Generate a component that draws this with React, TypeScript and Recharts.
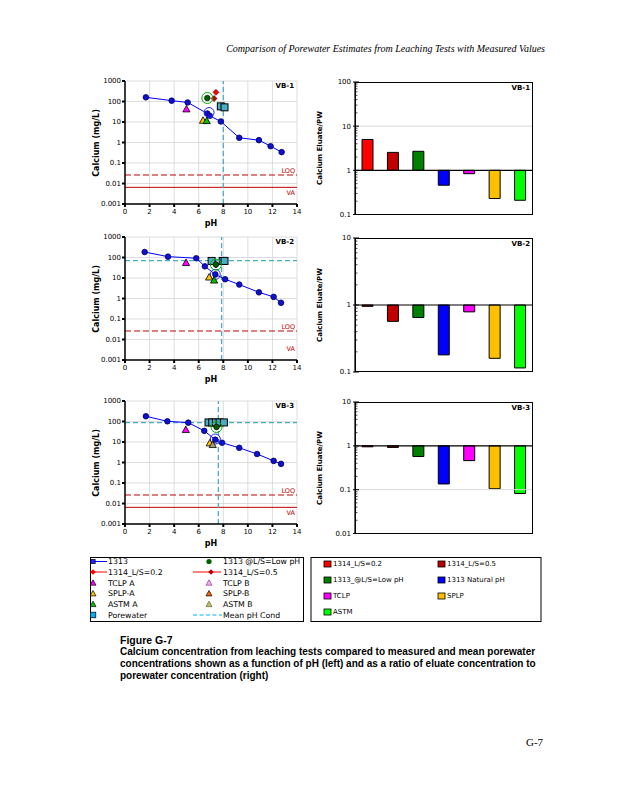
import React from 'react';
import {
  ComposedChart,
  Scatter,
  XAxis,
  YAxis,
  CartesianGrid,
  ReferenceLine,
  BarChart,
  Bar,
  Cell,
} from 'recharts';

type Pt = [number, number];

// ---------- axis ticks ----------
const PH_TICKS = [0, 2, 4, 6, 8, 10, 12, 14];
const CONC_TICKS = [0.001, 0.01, 0.1, 1, 10, 100, 1000];
const MINOR_MULT = [2, 3, 4, 5, 6, 7, 8, 9];
const RATIO_MAJORS_VB1 = [0.1, 1, 10, 100];
const RATIO_MAJORS_VB2 = [0.1, 1, 10];
const RATIO_MAJORS_VB3 = [0.01, 0.1, 1, 10];

// ---------- reference levels ----------
const LOQ = 0.026;
const VA = 0.0065;

// ---------- VB-1 (concentration vs pH) ----------
const vb1_1313: Pt[] = [[1.7, 160], [3.8, 110], [5.1, 90], [6.7, 26], [6.9, 20], [7.8, 10.6], [9.3, 1.7], [10.9, 1.3], [11.85, 0.66], [12.75, 0.34]];
const vb1_lowPH: Pt[] = [[6.7, 148]];
const vb1_l02: Pt[] = [[7.4, 280]];
const vb1_l05: Pt[] = [[7.25, 140]];
const vb1_tclpA: Pt[] = [[5.0, 43]];
const vb1_splpA: Pt[] = [[6.35, 12]];
const vb1_astmA: Pt[] = [[6.65, 11.5]];
const vb1_astmB: Pt[] = [];
const vb1_pore: Pt[] = [[7.8, 58], [8.1, 52]];
const vb1_natural: Pt[] = [[6.84, 29]];
const vb1_meanPH = 8.0;
const vb1_meanPW: number | null = null;

// ---------- VB-2 ----------
const vb2_1313: Pt[] = [[1.6, 185], [3.5, 110], [5.8, 92], [6.5, 37], [7.35, 15], [8.15, 8.7], [9.3, 4.8], [10.9, 2.0], [12.1, 1.2], [12.7, 0.62]];
const vb2_lowPH: Pt[] = [[7.4, 45]];
const vb2_l02: Pt[] = [[7.4, 47]];
const vb2_l05: Pt[] = [[7.4, 44]];
const vb2_tclpA: Pt[] = [[4.97, 56]];
const vb2_splpA: Pt[] = [[6.85, 11]];
const vb2_astmA: Pt[] = [[7.25, 7.8]];
const vb2_astmB: Pt[] = [];
const vb2_pore: Pt[] = [[7.05, 68], [7.95, 68], [8.1, 68]];
const vb2_natural: Pt[] = [[7.35, 15]];
const vb2_meanPH = 7.86;
const vb2_meanPW: number | null = 70;

// ---------- VB-3 ----------
const vb3_1313: Pt[] = [[1.7, 180], [3.45, 102], [5.15, 88], [6.45, 35], [7.35, 13], [7.9, 9.2], [9.3, 5.2], [10.75, 2.6], [12.1, 1.2], [12.7, 0.86]];
const vb3_lowPH: Pt[] = [[7.45, 54]];
const vb3_l02: Pt[] = [[7.45, 56]];
const vb3_l05: Pt[] = [];
const vb3_tclpA: Pt[] = [[4.95, 40]];
const vb3_splpA: Pt[] = [[6.9, 8.9]];
const vb3_astmA: Pt[] = [];
const vb3_astmB: Pt[] = [[7.14, 7.4]];
const vb3_pore: Pt[] = [[6.8, 90], [7.1, 90], [7.4, 90], [7.7, 90], [8.05, 90]];
const vb3_natural: Pt[] = [[7.35, 14]];
const vb3_meanPH = 7.6;
const vb3_meanPW: number | null = 88;

// ---------- ratio bars ----------
const BAR_CATS = ['1314_L/S=0.2', '1314_L/S=0.5', '1313_@L/S=Low pH', '1313 Natural pH', 'TCLP', 'SPLP', 'ASTM'];
const BAR_COLORS = ['#ff0000', '#c00000', '#008000', '#0000ff', '#ff00ff', '#ffc000', '#00ff00'];
const vb1_ratio = [5.0, 2.55, 2.7, 0.46, 0.84, 0.23, 0.21];
const vb2_ratio = [0.955, 0.57, 0.65, 0.18, 0.79, 0.16, 0.115];
const vb3_ratio = [0.95, 0.92, 0.57, 0.135, 0.46, 0.105, 0.082];

const FONT = "'DejaVu Sans', Verdana, sans-serif";

const toXY = (a: Pt[]) => a.map(([x, y]) => ({ x, y }));

// ---------- marker shapes ----------
const dotShape = (fill: string, stroke: string, r: number) => (p: any) =>
  <circle cx={p.cx} cy={p.cy} r={r} fill={fill} stroke={stroke} strokeWidth={0.8} />;
const ringShape = (fill: string, ring: string, r: number, R: number) => (p: any) => (
  <g>
    <circle cx={p.cx} cy={p.cy} r={r} fill={fill} stroke="#000" strokeWidth={0.6} />
    <circle cx={p.cx} cy={p.cy} r={R} fill="none" stroke={ring} strokeWidth={1} />
  </g>
);
const openRing = (ring: string, R: number) => (p: any) =>
  <circle cx={p.cx} cy={p.cy} r={R} fill="none" stroke={ring} strokeWidth={1} />;
const triShape = (fill: string, stroke = '#000') => (p: any) => {
  const { cx, cy } = p;
  const s = 3.6;
  return <polygon points={`${cx},${cy - s} ${cx - s},${cy + s * 0.8} ${cx + s},${cy + s * 0.8}`} fill={fill} stroke={stroke} strokeWidth={0.8} />;
};
const diamondShape = (fill: string) => (p: any) => {
  const { cx, cy } = p;
  const s = 3;
  return <polygon points={`${cx},${cy - s} ${cx + s},${cy} ${cx},${cy + s} ${cx - s},${cy}`} fill={fill} stroke="#600" strokeWidth={0.6} />;
};
const squareShape = (p: any) =>
  <rect x={p.cx - 3.5} y={p.cy - 3.5} width={7} height={7} fill="#4bacc6" stroke="#000" strokeWidth={1} />;

// label drawn at the right end of a reference line, shifted by dy
const EndLabel = (props: any) => {
  const vb = props.viewBox || {};
  const x = (vb.x || 0) + (vb.width || 0) - 2;
  const y = (vb.y || 0) + props.dy;
  return (
    <text x={x} y={y} textAnchor="end" fontSize={6.5} fontFamily={FONT} fill="#c00000">{props.text}</text>
  );
};

interface PhSet {
  line: Pt[]; lowPH: Pt[]; l02: Pt[]; l05: Pt[]; tclpA: Pt[]; splpA: Pt[]; astmA: Pt[]; astmB: Pt[];
  pore: Pt[]; natural: Pt[]; meanPH: number; meanPW: number | null; showVA: boolean;
}

const PLOT_H = 123;

function PhPanel({ top, label, s }: { top: number; label: string; s: PhSet }) {
  const W = 215;
  const H = 6 + PLOT_H + 25;
  const tickStyle = { fontSize: 7, fill: '#000', fontFamily: FONT };
  return (
    <>
      <div style={{ position: 'absolute', left: 90, top: top - 6 }}>
        <ComposedChart width={W} height={H} margin={{ top: 6, right: 8, bottom: 0, left: 0 }}>
          <CartesianGrid stroke="#d4d4d4" strokeWidth={0.8} />
          <XAxis type="number" dataKey="x" domain={[0, 14]} ticks={PH_TICKS} interval={0} height={25}
            tick={tickStyle} tickSize={3} tickMargin={2}
            axisLine={{ stroke: '#000', strokeWidth: 1.5 }} tickLine={{ stroke: '#000', strokeWidth: 2 }} />
          <YAxis type="number" dataKey="y" scale="log" domain={[0.001, 1000]} allowDataOverflow ticks={CONC_TICKS}
            interval={0} width={35} tick={tickStyle} tickSize={3} tickMargin={1}
            tickFormatter={(v: number) => String(v)}
            axisLine={{ stroke: '#000', strokeWidth: 1.5 }} tickLine={{ stroke: '#000', strokeWidth: 2 }} />
          <ReferenceLine y={LOQ} stroke="#c00000" strokeWidth={1} strokeDasharray="6 3"
            label={<EndLabel text="LOQ" dy={-2} />} />
          <ReferenceLine y={VA} stroke={s.showVA ? '#c00000' : 'none'} strokeWidth={1}
            label={<EndLabel text="VA" dy={8} />} />
          <ReferenceLine x={s.meanPH} stroke="#4bacc6" strokeWidth={1.3} strokeDasharray="5 3" />
          {s.meanPW !== null && (
            <ReferenceLine y={s.meanPW} stroke="#4bacc6" strokeWidth={1.3} strokeDasharray="5 3" />
          )}
          <Scatter data={toXY(s.line)} isAnimationActive={false} line={{ stroke: '#0000ff', strokeWidth: 1 }}
            lineJointType="linear" shape={dotShape('#1010d0', '#000060', 2.8)} />
          <Scatter data={toXY(s.natural)} isAnimationActive={false} shape={openRing('#2020ff', 5)} />
          <Scatter data={toXY(s.tclpA)} isAnimationActive={false} shape={triShape('#ff00ff')} />
          <Scatter data={toXY(s.splpA)} isAnimationActive={false} shape={triShape('#ffc000')} />
          <Scatter data={toXY(s.astmA)} isAnimationActive={false} shape={triShape('#00c000')} />
          <Scatter data={toXY(s.astmB)} isAnimationActive={false} shape={triShape('#a0a070')} />
          <Scatter data={toXY(s.pore)} isAnimationActive={false} shape={squareShape} />
          <Scatter data={toXY(s.l05)} isAnimationActive={false} shape={diamondShape('#c00000')} />
          <Scatter data={toXY(s.l02)} isAnimationActive={false} shape={diamondShape('#ff0000')} />
          <Scatter data={toXY(s.lowPH)} isAnimationActive={false} shape={ringShape('#006000', '#00b000', 2.8, 5.5)} />
        </ComposedChart>
      </div>
      <div style={{ position: 'absolute', left: 97, top: top + PLOT_H / 2, transform: 'translate(-50%,-50%) rotate(-90deg)', whiteSpace: 'nowrap', fontFamily: FONT, fontSize: 8, fontWeight: 'bold', lineHeight: '1' }}>Calcium (mg/L)</div>
      <div style={{ position: 'absolute', left: 211, top: top + PLOT_H + 20, transform: 'translate(-50%,-50%)', fontFamily: FONT, fontSize: 8, fontWeight: 'bold', lineHeight: '1' }}>pH</div>
      <div style={{ position: 'absolute', left: 260, width: 34, top: top + 2, textAlign: 'right', fontFamily: FONT, fontSize: 7, fontWeight: 'bold', lineHeight: '1' }}>{label}</div>
    </>
  );
}

const isMajor = (v: number) => {
  const lg = Math.log10(v);
  return Math.abs(lg - Math.round(lg)) < 1e-6;
};

const LogTick = (props: any) => {
  const { x, y, payload } = props;
  const v = payload.value;
  const major = isMajor(v);
  return (
    <g>
      <line x1={x - (major ? 2 : 0)} x2={x + (major ? 4 : 2.5)} y1={y} y2={y} stroke="#000" strokeWidth={major ? 1 : 0.7} />
      {major && (
        <text x={x - 4} y={y} dy="0.35em" textAnchor="end" fontSize={7} fontFamily={FONT} fill="#000">{String(v)}</text>
      )}
    </g>
  );
};

const buildTicks = (majors: number[]) => {
  const out: number[] = [];
  majors.forEach((m, i) => {
    out.push(m);
    if (i < majors.length - 1) MINOR_MULT.forEach((k) => out.push(+(m * k).toPrecision(6)));
  });
  return out;
};

function RatioPanel({ top, h, majors, values, grid, label }:
  { top: number; h: number; majors: number[]; values: number[]; grid: number[]; label: string }) {
  const data = BAR_CATS.map((name, i) => ({ name, v: values[i] }));
  const ticks = buildTicks(majors);
  const domain = [majors[0], majors[majors.length - 1]];
  const W = 238;
  return (
    <>
      <div style={{ position: 'absolute', left: 300, top: top - 5 }}>
        <BarChart width={W} height={h + 10} data={data} margin={{ top: 5, right: 5, bottom: 5, left: 0 }} barSize={11}>
          <XAxis dataKey="name" hide />
          <YAxis type="number" scale="log" domain={domain} allowDataOverflow ticks={ticks} interval={0} width={55}
            tickSize={0} tickMargin={0} tickLine={false} tick={<LogTick />}
            axisLine={{ stroke: '#000', strokeWidth: 1.2 }} />
          {grid.map((g) => (
            <ReferenceLine key={g} y={g} stroke="#d9d9d9" strokeWidth={1} />
          ))}
          <Bar dataKey={(d: any) => [Math.min(1, d.v), Math.max(1, d.v)]} barSize={11} stroke="#000" strokeWidth={1} isAnimationActive={false}>
            {data.map((d, i) => (
              <Cell key={d.name} fill={BAR_COLORS[i]} />
            ))}
          </Bar>
          <ReferenceLine y={1} stroke="#000" strokeWidth={1.2} />
        </BarChart>
      </div>
      <div style={{ position: 'absolute', left: 355, top: top, width: 178, height: h, boxSizing: 'border-box', border: '1px solid #000', pointerEvents: 'none' }} />
      <div style={{ position: 'absolute', left: 320, top: top + h / 2, transform: 'translate(-50%,-50%) rotate(-90deg)', whiteSpace: 'nowrap', fontFamily: FONT, fontSize: 7, fontWeight: 'bold', lineHeight: '1' }}>Calcium Eluate/PW</div>
      <div style={{ position: 'absolute', left: 490, width: 40, top: top + 3, textAlign: 'right', fontFamily: FONT, fontSize: 7, fontWeight: 'bold', lineHeight: '1' }}>{label}</div>
    </>
  );
}

// ---------- legends ----------
const LEFT_LEG_COL1 = ['1313', '1314_L/S=0.2', 'TCLP A', 'SPLP-A', 'ASTM A', 'Porewater'];
const LEFT_LEG_COL2 = ['1313 @L/S=Low pH', '1314_L/S=0.5', 'TCLP B', 'SPLP-B', 'ASTM B', 'Mean pH Cond'];
const LEG_ROWS = [561.5, 572, 582.8, 593.5, 604.2, 615];
const RIGHT_LEG_ROWS = [564, 580, 596, 612];

const tri = (cx: number, cy: number, fill: string, stroke = '#000') =>
  <polygon points={`${cx},${cy - 3} ${cx - 3},${cy + 2.4} ${cx + 3},${cy + 2.4}`} fill={fill} stroke={stroke} strokeWidth={0.7} />;

function Legends() {
  const lf = { fontFamily: FONT, fontSize: 7.8, fill: '#000' } as any;
  const rf = { fontFamily: FONT, fontSize: 7, fill: '#000' } as any;
  const r = LEG_ROWS;
  const c1 = 93, t1 = 108, c2 = 209, t2 = 223;
  return (
    <svg width={618} height={800} style={{ position: 'absolute', left: 0, top: 0, pointerEvents: 'none' }}>
      <defs>
        <clipPath id="legL"><rect x={90.5} y={557.5} width={213} height={64} /></clipPath>
      </defs>
      <rect x={90.5} y={557.5} width={213} height={64} fill="none" stroke="#000" strokeWidth={1} />
      <g clipPath="url(#legL)">
        <line x1={88} x2={107} y1={r[0]} y2={r[0]} stroke="#0000ff" strokeWidth={1} />
        <rect x={c1 - 2.2} y={r[0] - 2.2} width={4.4} height={4.4} fill="#2020ff" stroke="#000" strokeWidth={0.6} />
        <line x1={88} x2={107} y1={r[1]} y2={r[1]} stroke="#ff0000" strokeWidth={1} />
        <polygon points={`${c1},${r[1] - 2.8} ${c1 + 2.8},${r[1]} ${c1},${r[1] + 2.8} ${c1 - 2.8},${r[1]}`} fill="#ff0000" />
        {tri(c1, r[2], '#ff00ff')}
        {tri(c1, r[3], '#ffc000')}
        {tri(c1, r[4], '#00c000')}
        <rect x={c1 - 2.8} y={r[5] - 2.8} width={5.6} height={5.6} fill="#00b0f0" stroke="#000" strokeWidth={0.7} />
        <circle cx={c2} cy={r[0]} r={2.6} fill="#006000" />
        <line x1={193} x2={221} y1={r[1]} y2={r[1]} stroke="#ff0000" strokeWidth={1} />
        <polygon points={`${211},${r[1] - 2.8} ${213.8},${r[1]} ${211},${r[1] + 2.8} ${208.2},${r[1]}`} fill="#c00000" />
        {tri(c2, r[2], '#f0b0f0', '#993399')}
        {tri(c2, r[3], '#ff6600')}
        {tri(c2, r[4], '#c0c060', '#606030')}
        <line x1={193} x2={222} y1={r[5]} y2={r[5]} stroke="#00b0f0" strokeWidth={1.2} strokeDasharray="4 2.5" />
        {LEFT_LEG_COL1.map((t, i) => (
          <text key={t} x={t1} y={r[i]} dy="0.35em" style={lf}>{t}</text>
        ))}
        {LEFT_LEG_COL2.map((t, i) => (
          <text key={t} x={t2} y={r[i]} dy="0.35em" style={lf}>{t}</text>
        ))}
      </g>

      <rect x={311} y={557.5} width={230} height={64} fill="none" stroke="#000" strokeWidth={1} />
      {BAR_CATS.map((t, i) => {
        const col = i % 2;
        const row = Math.floor(i / 2);
        const sx = col === 0 ? 324 : 438;
        const y = RIGHT_LEG_ROWS[row];
        return (
          <g key={t}>
            <rect x={sx} y={y - 3} width={7} height={6} fill={BAR_COLORS[i]} stroke="#000" strokeWidth={0.8} />
            <text x={sx + 9} y={y} dy="0.35em" style={rf}>{t}</text>
          </g>
        );
      })}
    </svg>
  );
}

export default function App() {
  const s1: PhSet = { line: vb1_1313, lowPH: vb1_lowPH, l02: vb1_l02, l05: vb1_l05, tclpA: vb1_tclpA, splpA: vb1_splpA, astmA: vb1_astmA, astmB: vb1_astmB, pore: vb1_pore, natural: vb1_natural, meanPH: vb1_meanPH, meanPW: vb1_meanPW, showVA: true };
  const s2: PhSet = { line: vb2_1313, lowPH: vb2_lowPH, l02: vb2_l02, l05: vb2_l05, tclpA: vb2_tclpA, splpA: vb2_splpA, astmA: vb2_astmA, astmB: vb2_astmB, pore: vb2_pore, natural: vb2_natural, meanPH: vb2_meanPH, meanPW: vb2_meanPW, showVA: false };
  const s3: PhSet = { line: vb3_1313, lowPH: vb3_lowPH, l02: vb3_l02, l05: vb3_l05, tclpA: vb3_tclpA, splpA: vb3_splpA, astmA: vb3_astmA, astmB: vb3_astmB, pore: vb3_pore, natural: vb3_natural, meanPH: vb3_meanPH, meanPW: vb3_meanPW, showVA: true };
  return (
    <div style={{ position: 'absolute', left: 0, top: 0, width: 618, height: 800, background: '#fff', overflow: 'hidden' }}>
      <div style={{ position: 'absolute', left: 0, width: 545, top: 44, textAlign: 'right', fontFamily: "'Liberation Serif', serif", fontStyle: 'italic', fontSize: 10, lineHeight: '1' }}>
        Comparison of Porewater Estimates from Leaching Tests with Measured Values
      </div>

      <PhPanel top={81} label="VB-1" s={s1} />
      <PhPanel top={237} label="VB-2" s={s2} />
      <PhPanel top={401} label="VB-3" s={s3} />

      <RatioPanel top={82} h={132.5} majors={RATIO_MAJORS_VB1} values={vb1_ratio} grid={[10]} label="VB-1" />
      <RatioPanel top={237.5} h={134} majors={RATIO_MAJORS_VB2} values={vb2_ratio} grid={[]} label="VB-2" />
      <RatioPanel top={402} h={131.5} majors={RATIO_MAJORS_VB3} values={vb3_ratio} grid={[0.1]} label="VB-3" />

      <Legends />

      <div style={{ position: 'absolute', left: 120, top: 634, fontFamily: "'Liberation Sans', Arial, sans-serif", fontWeight: 'bold', fontSize: 10, lineHeight: '12px', whiteSpace: 'nowrap' }}>
        <div style={{ fontSize: 10.5 }}>Figure G-7</div>
        <div>Calcium concentration from leaching tests compared to measured and mean porewater</div>
        <div>concentrations shown as a function of pH (left) and as a ratio of eluate concentration to</div>
        <div>porewater concentration (right)</div>
      </div>

      <div style={{ position: 'absolute', left: 526, top: 737, fontFamily: "'Liberation Serif', serif", fontSize: 11, lineHeight: '1' }}>G-7</div>
    </div>
  );
}
